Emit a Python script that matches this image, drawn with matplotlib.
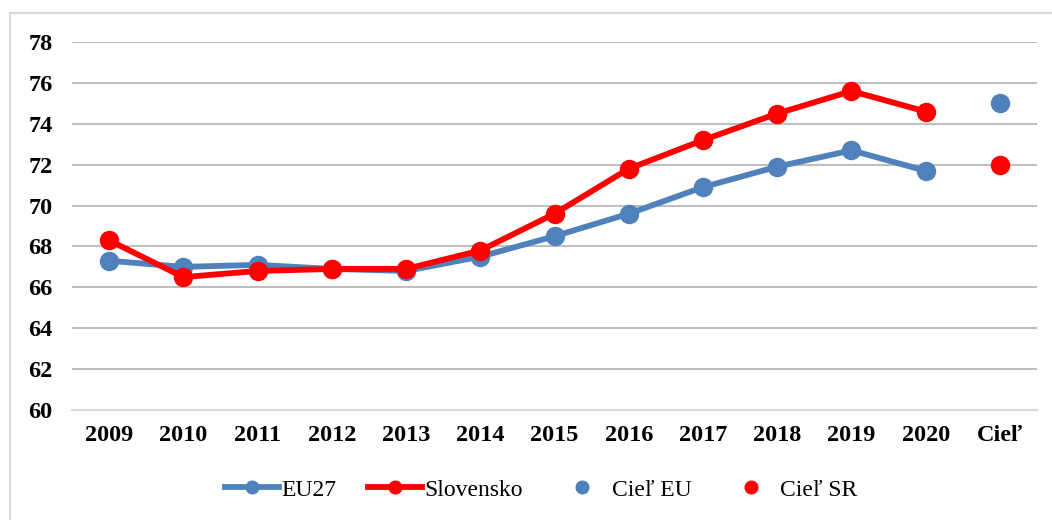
import matplotlib.pyplot as plt
from matplotlib.patches import Rectangle

# Data
years = ["2009", "2010", "2011", "2012", "2013", "2014", "2015",
         "2016", "2017", "2018", "2019", "2020", "Cieľ"]
eu27 = [67.3, 67.0, 67.1, 66.9, 66.8, 67.5, 68.5, 69.6, 70.9, 71.9, 72.7, 71.7]
slovensko = [68.3, 66.5, 66.8, 66.9, 66.9, 67.8, 69.6, 71.8, 73.2, 74.5, 75.6, 74.6]
ciel_eu = 75.0
ciel_sr = 72.0

blue = "#4F81BD"
red = "#FF0000"

plt.rcParams["font.family"] = ["Liberation Serif", "DejaVu Serif"]

fig = plt.figure(figsize=(10.52, 5.2), dpi=100)
ax = fig.add_axes([72 / 1052, 110 / 520, 965 / 1052, 368 / 520])

x = list(range(len(years)))
ax.plot(x[:12], eu27, color=blue, lw=4.2, marker="o", ms=13, label="EU27", zorder=3)
ax.plot(x[:12], slovensko, color=red, lw=4.2, marker="o", ms=13, label="Slovensko", zorder=4)
ax.plot([x[12]], [ciel_eu], ls="none", color=blue, marker="o", ms=13, label="Cieľ EU", zorder=3)
ax.plot([x[12]], [ciel_sr], ls="none", color=red, marker="o", ms=13, label="Cieľ SR", zorder=3)

ax.set_xlim(-0.5, 12.5)
ax.set_ylim(60, 78)
ax.set_yticks(range(60, 79, 2))
ax.set_xticks(x)
ax.set_xticklabels(years)
ax.grid(axis="y", color="#BFBFBF", lw=1.5)
ax.set_axisbelow(True)
for s in ["top", "right", "left"]:
    ax.spines[s].set_visible(False)
ax.spines["bottom"].set_color("#D9D9D9")
ax.spines["bottom"].set_linewidth(1.5)
ax.tick_params(length=0, labelsize=17.5)
ax.tick_params(axis="y", pad=14)
ax.tick_params(axis="x", pad=11)
for lab in ax.get_xticklabels() + ax.get_yticklabels():
    lab.set_fontweight("bold")

fig.legend(loc="center", bbox_to_anchor=(541 / 1052, 1 - 490 / 520), ncol=4,
           frameon=False, fontsize=17, handlelength=2.3, handletextpad=0.1,
           columnspacing=1.35, markerscale=0.7)

fig.add_artist(Rectangle((10 / 1052, -0.1), 1.1, 0.1 + (1 - 13 / 520),
                         transform=fig.transFigure, fill=False,
                         edgecolor="#D9D9D9", lw=1.5))

fig.savefig("out.png", dpi=100)
